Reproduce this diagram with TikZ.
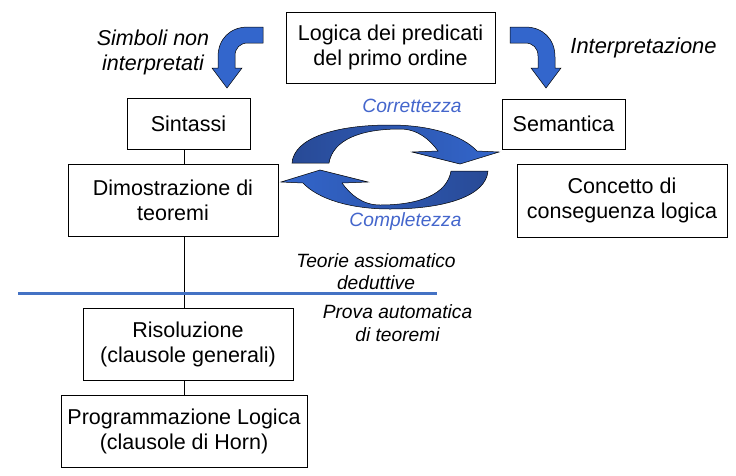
\documentclass[tikz,border=0pt]{standalone}
\usepackage{fontspec}
\setmainfont{Liberation Sans}
\definecolor{arrowblue}{RGB}{51,102,204}
\definecolor{darkblue}{RGB}{40,74,150}
\definecolor{labelblue}{RGB}{68,102,204}
\definecolor{rule}{RGB}{68,114,196}
\begin{document}
\begin{tikzpicture}[x=1pt, y=-1pt,
  box/.style={draw, line width=0.9pt, fill=white, align=center, inner sep=0pt,
    font=\fontsize{21.5}{25}\selectfont},
  note/.style={align=center, inner sep=0pt, font=\fontsize{21.5}{25}\selectfont\itshape},
  smallnote/.style={align=center, inner sep=0pt, font=\fontsize{19.2}{22.5}\selectfont\itshape},
  bluenote/.style={smallnote, text=labelblue}]
\useasboundingbox (0,0) rectangle (736,475);

\node[box, minimum width=209pt, minimum height=71pt] (logica) at (390.5,47.5) {Logica dei predicati\\del primo ordine};
\node[box, minimum width=123pt, minimum height=51pt] (sintassi) at (188.5,123.5) {Sintassi};
\node[box, minimum width=123pt, minimum height=50pt] (semantica) at (563.5,124) {Semantica};
\node[box, minimum width=210pt, minimum height=72pt] (dimo) at (173,200) {Dimostrazione di\\teoremi};
\node[box, minimum width=210pt, minimum height=73pt] (concetto) at (622,200.5) {Concetto di\\conseguenza logica};
\node[box, minimum width=210pt, minimum height=72pt] (riso) at (188,344) {Risoluzione\\(clausole generali)};
\node[box, minimum width=246pt, minimum height=72pt] (prog) at (184,431) {Programmazione Logica\\(clausole di Horn)};

\coordinate (spine) at (184,0);
\draw[line width=0.9pt] (sintassi.south -| spine) -- (dimo.north -| spine);
\draw[line width=0.9pt] (dimo.south -| spine) -- (riso.north -| spine);
\draw[line width=0.9pt] (riso.south -| spine) -- (prog.north -| spine);

\coordinate (ruleL) at (18,293);
\coordinate (ruleR) at (437,293);
\draw[rule, line width=3pt] (ruleL) -- (ruleR);

\node[note] (simboli) at (153,52) {Simboli non\\interpretati};
\node[note, font=\fontsize{21.9}{25}\selectfont\itshape] (interp) at (643.5,48) {Interpretazione};
\node[bluenote] (corr) at (412,106) {Correttezza};
\node[bluenote] (compl) at (405.5,222) {Completezza};
\node[smallnote] (teorie) at (376,271.5) {Teorie assiomatico\\deduttive};
\node[smallnote] (prova) at (397.5,323) {Prova automatica\\di teoremi};

% bent arrows
\filldraw[fill=arrowblue, draw=black, line width=0.5pt]
  (510,27) -- (525,27) .. controls (543,27) and (555,39) .. (555,57)
  -- (555,68) -- (561,68) -- (546,88) -- (531,68) -- (538,68) -- (538,56)
  .. controls (538,48) and (533,43) .. (525,43) -- (510,43) -- cycle;
\begin{scope}[shift={(773,0)}, xscale=-1]
\filldraw[fill=arrowblue, draw=black, line width=0.5pt]
  (510,27) -- (525,27) .. controls (543,27) and (555,39) .. (555,57)
  -- (555,68) -- (561,68) -- (546,88) -- (531,68) -- (538,68) -- (538,56)
  .. controls (538,48) and (533,43) .. (525,43) -- (510,43) -- cycle;
\end{scope}

% circular arrows
\draw[left color=darkblue, right color=arrowblue, draw=black, line width=0.5pt]
  (292,163) -- (329,163) .. controls (333,140) and (360,129) .. (400,129)
  .. controls (418,129) and (430,140) .. (438,151)
  -- (412,152) -- (460,164) -- (499,152) -- (477,151)
  .. controls (462,135) and (430,125) .. (390,125)
  .. controls (335,125) and (294,138) .. (292,163) -- cycle;
\begin{scope}[rotate around={180:(390,167)}]
\draw[left color=arrowblue, right color=darkblue, draw=black, line width=0.5pt]
  (292,163) -- (329,163) .. controls (333,140) and (360,129) .. (400,129)
  .. controls (418,129) and (430,140) .. (438,151)
  -- (412,152) -- (460,164) -- (499,152) -- (477,151)
  .. controls (462,135) and (430,125) .. (390,125)
  .. controls (335,125) and (294,138) .. (292,163) -- cycle;
\end{scope}
\end{tikzpicture}
\end{document}
